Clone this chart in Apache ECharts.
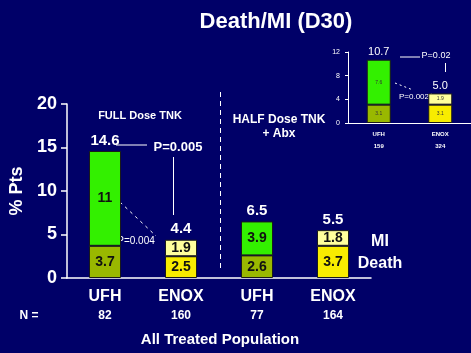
<!DOCTYPE html>
<html>
<head>
<meta charset="utf-8">
<script src="https://cdn.jsdelivr.net/npm/echarts@6/dist/echarts.min.js"></script>
<style>
  html, body { margin: 0; padding: 0; background: #000068; }
  #chart { width: 471px; height: 353px; }
</style>
</head>
<body>
<div id="chart"></div>
<script>
// main chart data
const groups = ['UFH', 'ENOX', 'UFH', 'ENOX']
const nCounts = ['82', '160', '77', '164']
const death = [3.7, 2.5, 2.6, 3.7]
const mi = [10.9, 1.9, 3.9, 1.8]
const miText = ['11', '1.9', '3.9', '1.8']
const totals = [14.6, 4.4, 6.5, 5.5]

// inset data (pooled)
const insetGroups = ['UFH', 'ENOX']
const insetN = ['159', '324']
const insetDeath = [3.1, 3.1]
const insetMi = [7.6, 1.9]
const insetTotals = [10.7, 5.0]

const FONT = 'Liberation Sans'
const olive = '#99b800'
const green = '#33f000'
const yellow = '#f8ec00'
const paleYellow = '#ffff9c'
const isUfh = name => name === 'UFH'

function colored(values, names, ufhColor, enoxColor) {
  return values.map((v, i) => ({
    value: v,
    itemStyle: { color: isUfh(names[i]) ? ufhColor : enoxColor }
  }))
}

const chart = echarts.init(document.getElementById('chart'))

const option = {
  backgroundColor: '#000068',
  animation: false,
  textStyle: { fontFamily: FONT },
  grid: [
    { left: 58, right: 100, top: 104, bottom: 75 },
    { left: 348, right: -6, top: 52, bottom: 230 }
  ],
  xAxis: [
    {
      gridIndex: 0,
      type: 'category',
      data: groups,
      axisLine: { lineStyle: { color: '#fff', width: 1.5 } },
      axisTick: { length: 6, lineStyle: { color: '#fff', width: 1.5 } },
      axisLabel: {
        margin: 9,
        interval: 0,
        formatter: (v, i) => '{a|' + v + '}\n{b|' + nCounts[i] + '}',
        rich: {
          a: { color: '#fff', fontSize: 16, fontWeight: 'bold', fontFamily: FONT, lineHeight: 19 },
          b: { color: '#fff', fontSize: 12, fontWeight: 'bold', fontFamily: FONT, lineHeight: 19 }
        }
      }
    },
    {
      gridIndex: 1,
      type: 'category',
      data: insetGroups,
      axisLine: { lineStyle: { color: '#fff', width: 1 } },
      axisTick: { length: 3, lineStyle: { color: '#fff' } },
      axisLabel: {
        margin: 5,
        interval: 0,
        hideOverlap: false,
        showMaxLabel: true,
        formatter: (v, i) => '{a|' + v + '}\n{b|' + insetN[i] + '}',
        rich: {
          a: { color: '#fff', fontSize: 6, fontWeight: 'bold', fontFamily: FONT, lineHeight: 12 },
          b: { color: '#fff', fontSize: 6, fontWeight: 'bold', fontFamily: FONT, lineHeight: 12 }
        }
      }
    }
  ],
  yAxis: [
    {
      gridIndex: 0,
      type: 'value',
      min: 0,
      max: 20,
      interval: 5,
      name: '% Pts',
      nameLocation: 'middle',
      nameGap: 41,
      nameRotate: 90,
      nameTextStyle: { color: '#fff', fontSize: 18, fontWeight: 'bold', fontFamily: FONT },
      axisLine: { show: true, lineStyle: { color: '#fff', width: 1.5 } },
      axisTick: { show: true, length: 6, lineStyle: { color: '#fff', width: 1.5 } },
      splitLine: { show: false },
      axisLabel: { color: '#fff', fontSize: 18, fontWeight: 'bold', margin: 10, fontFamily: FONT }
    },
    {
      gridIndex: 1,
      type: 'value',
      min: 0,
      max: 12,
      interval: 4,
      axisLine: { show: true, lineStyle: { color: '#fff', width: 1 } },
      axisTick: { show: true, length: 3, lineStyle: { color: '#fff' } },
      splitLine: { show: false },
      axisLabel: { color: '#fff', fontSize: 7, margin: 8, fontFamily: FONT }
    }
  ],
  series: [
    {
      name: 'Death',
      type: 'bar',
      stack: 'main',
      barWidth: 32,
      data: colored(death, groups, olive, yellow),
      itemStyle: { borderColor: '#1a1a1a', borderWidth: 1 },
      label: { show: true, position: 'inside', color: '#111', fontSize: 14, fontWeight: 'bold', fontFamily: FONT }
    },
    {
      name: 'MI',
      type: 'bar',
      stack: 'main',
      barWidth: 32,
      data: colored(mi, groups, green, paleYellow),
      itemStyle: { borderColor: '#1a1a1a', borderWidth: 1 },
      label: { show: true, position: 'inside', color: '#111', fontSize: 14, fontWeight: 'bold', fontFamily: FONT,
        formatter: p => miText[p.dataIndex] }
    },
    {
      name: 'Total',
      type: 'bar',
      barWidth: 32,
      barGap: '-100%',
      data: totals,
      itemStyle: { color: 'rgba(0,0,0,0)' },
      label: { show: true, position: 'top', distance: 3, color: '#fff', fontSize: 15, fontWeight: 'bold', fontFamily: FONT,
        formatter: p => p.value.toFixed(1) }
    },
    {
      name: 'Death inset',
      type: 'bar',
      xAxisIndex: 1,
      yAxisIndex: 1,
      stack: 'inset',
      barWidth: 24,
      data: colored(insetDeath, insetGroups, olive, yellow),
      itemStyle: { borderColor: '#1a1a1a', borderWidth: 1 },
      label: { show: true, position: 'inside', color: '#333', fontSize: 5, fontFamily: FONT }
    },
    {
      name: 'MI inset',
      type: 'bar',
      xAxisIndex: 1,
      yAxisIndex: 1,
      stack: 'inset',
      barWidth: 24,
      data: colored(insetMi, insetGroups, green, paleYellow),
      itemStyle: { borderColor: '#1a1a1a', borderWidth: 1 },
      label: { show: true, position: 'inside', color: '#333', fontSize: 5, fontFamily: FONT }
    },
    {
      name: 'Total inset',
      type: 'bar',
      xAxisIndex: 1,
      yAxisIndex: 1,
      barWidth: 24,
      barGap: '-100%',
      data: insetTotals,
      itemStyle: { color: 'rgba(0,0,0,0)' },
      label: { show: true, position: 'top', distance: 2, color: '#fff', fontSize: 11, fontFamily: FONT,
        formatter: p => p.value.toFixed(1) }
    }
  ],
  graphic: [
    { type: 'text', x: 276, y: 22, style: { text: 'Death/MI (D30)', fill: '#fff', font: 'bold 22px ' + FONT, textAlign: 'center', textVerticalAlign: 'middle' } },
    { type: 'text', x: 140, y: 116, style: { text: 'FULL Dose TNK', fill: '#fff', font: 'bold 11px ' + FONT, textAlign: 'center', textVerticalAlign: 'middle' } },
    { type: 'text', x: 279, y: 120, style: { text: 'HALF Dose TNK', fill: '#fff', font: 'bold 12px ' + FONT, textAlign: 'center', textVerticalAlign: 'middle' } },
    { type: 'text', x: 279, y: 134, style: { text: '+ Abx', fill: '#fff', font: 'bold 12px ' + FONT, textAlign: 'center', textVerticalAlign: 'middle' } },
    { type: 'line', shape: { x1: 220.5, y1: 92, x2: 220.5, y2: 272 }, style: { stroke: '#fff', lineWidth: 1, lineDash: [5, 4] } },
    // P=0.005
    { type: 'line', shape: { x1: 116, y1: 145, x2: 147, y2: 145 }, style: { stroke: '#fff', lineWidth: 1 } },
    { type: 'text', x: 178, y: 147, style: { text: 'P=0.005', fill: '#fff', font: 'bold 13px ' + FONT, textAlign: 'center', textVerticalAlign: 'middle' } },
    { type: 'line', shape: { x1: 173.5, y1: 157, x2: 173.5, y2: 215 }, style: { stroke: '#fff', lineWidth: 1 } },
    // P=0.004
    { type: 'line', shape: { x1: 120, y1: 202, x2: 156, y2: 236 }, style: { stroke: '#fff', lineWidth: 1, lineDash: [3, 4] } },
    { type: 'text', x: 136, y: 241, style: { text: 'P=0.004', fill: '#fff', font: '10px ' + FONT, textAlign: 'center', textVerticalAlign: 'middle' } },
    // legend words
    { type: 'text', x: 380, y: 242, style: { text: 'MI', fill: '#fff', font: 'bold 16px ' + FONT, textAlign: 'center', textVerticalAlign: 'middle' } },
    { type: 'text', x: 380, y: 264, style: { text: 'Death', fill: '#fff', font: 'bold 16px ' + FONT, textAlign: 'center', textVerticalAlign: 'middle' } },
    { type: 'text', x: 29, y: 316, style: { text: 'N =', fill: '#fff', font: 'bold 12px ' + FONT, textAlign: 'center', textVerticalAlign: 'middle' } },
    { type: 'text', x: 220, y: 340, style: { text: 'All Treated Population', fill: '#fff', font: 'bold 15px ' + FONT, textAlign: 'center', textVerticalAlign: 'middle' } },
    // inset annotations
    { type: 'line', shape: { x1: 400, y1: 57, x2: 420, y2: 57 }, style: { stroke: '#fff', lineWidth: 1 } },
    { type: 'text', x: 436, y: 56, style: { text: 'P=0.02', fill: '#fff', font: '9px ' + FONT, textAlign: 'center', textVerticalAlign: 'middle' } },
    { type: 'line', shape: { x1: 445.5, y1: 63, x2: 445.5, y2: 72 }, style: { stroke: '#fff', lineWidth: 1 } },
    { type: 'line', shape: { x1: 395, y1: 83, x2: 413, y2: 90 }, style: { stroke: '#fff', lineWidth: 1, lineDash: [2, 3] } },
    { type: 'text', x: 414, y: 97, style: { text: 'P=0.002', fill: '#fff', font: '8px ' + FONT, textAlign: 'center', textVerticalAlign: 'middle' } },
    { type: 'line', shape: { x1: 428, y1: 95, x2: 432, y2: 94 }, style: { stroke: '#fff', lineWidth: 1 } }
  ]
}

chart.setOption(option)
</script>
</body>
</html>
